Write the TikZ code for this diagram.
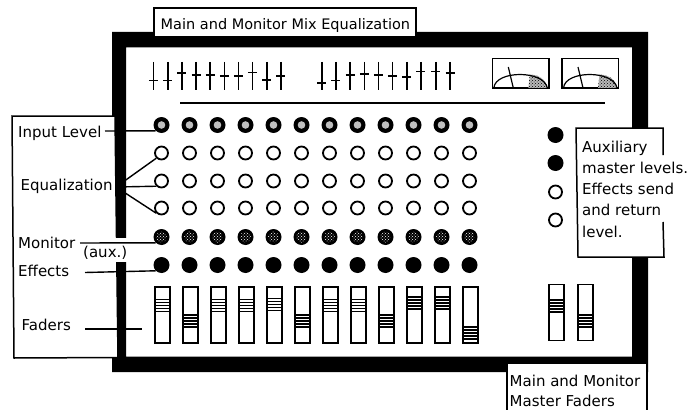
\documentclass[tikz,border=0pt]{standalone}
\usepackage{fontspec}
\setmainfont{DejaVu Sans}
\usetikzlibrary{patterns}
\begin{document}
\begin{tikzpicture}[x=1pt,y=-1pt,
  lbl/.style={anchor=base west, inner sep=0pt, font=\fontsize{15}{18}\selectfont},
  tlbl/.style={anchor=base west, inner sep=0pt, font=\fontsize{14.5}{18}\selectfont},
  boxline/.style={draw=black, line width=1.5pt, fill=white},
  conn/.style={draw=black, line width=1.4pt},
  knob/.style={draw=black, line width=1.6pt},
  bar/.style={draw=black, line width=1.6pt},
  inlevel/.style={circle, fill=black, minimum size=16pt, inner sep=0pt,
    path picture={\fill[gray!50] (path picture bounding box.center) circle[radius=3.8pt];}},
  eqknob/.style={circle, draw=black, line width=1.8pt, fill=white, minimum size=13pt, inner sep=0pt},
  monknob/.style={circle, fill=black, minimum size=16pt, inner sep=0pt,
    path picture={\fill[pattern=crosshatch dots, pattern color=white] (path picture bounding box.center) circle[radius=5.5pt];}},
  effknob/.style={circle, fill=black, minimum size=16pt, inner sep=0pt},
  fader/.style={rectangle, draw=black, line width=1.3pt, fill=white, minimum width=15pt, minimum height=56pt, inner sep=0pt},
  meterbox/.style={draw=black, line width=1.4pt, fill=white}
]
\useasboundingbox (0,0) rectangle (695,409);
\clip (0,0) rectangle (695,409);
\fill[white] (0,0) rectangle (695,409);

% thick frame
\fill[black, even odd rule] (112,32) rectangle (648,372) (126,47.5) rectangle (632,356.5);

% top small faders
\foreach \x/\t in {153.3/80.7, 167.7/80.7, 181.7/73.3, 196/75, 210/75, 224.3/76, 238.3/76, 252.3/72.7, 266.7/80, 280.7/76,
                   321.7/83.3, 335.7/80.7, 350/75, 364.3/74, 378.3/75, 392.3/76, 406.7/77.3, 420.7/71.7, 435.7/71.7, 450/73.3}{
  \draw[knob] (\x,62) -- (\x,90);
  \draw[knob] (\x-4.5,\t) -- (\x+4.5,\t);
}
\draw[line width=1.6pt] (180,103) -- (605,103);

% meters
\foreach \x in {492.3,562}{
  \draw[meterbox] (\x,58.5) rectangle (\x+56.5,88);
  \fill[gray!55] (\x+36,88) -- (\x+37.5,74.6) .. controls (\x+47,74.8) and (\x+53,79) .. (\x+55,88) -- cycle;
  \fill[pattern=crosshatch dots, pattern color=black] (\x+36,88) -- (\x+37.5,74.6) .. controls (\x+47,74.8) and (\x+53,79) .. (\x+55,88) -- cycle;
  \draw[line width=1.2pt] (\x+1.5,88) .. controls (\x+3,70) and (\x+52,70) .. (\x+55,88);
  \draw[line width=1.2pt] (\x+21,88) -- (\x+16,67);
}

% title box
\draw[boxline, line width=1.2pt] (154,8) rectangle (416,37);
\node[tlbl] (title) at (160.5,30) {Main and Monitor Mix Equalization};

% left label box
\draw[boxline] (12,116) -- (115,116) -- (118,357.5) -- (14,358) -- cycle;
\fill[white] (113,238) rectangle (131,262);

% knob grid
\foreach \i in {0,...,11}{
  \pgfmathsetmacro\cx{161.5+28*\i}
  \node[inlevel] (in\i) at (\cx,125) {};
  \node[eqknob] (eqa\i) at (\cx,153) {};
  \node[eqknob] (eqb\i) at (\cx,181) {};
  \node[eqknob] (eqc\i) at (\cx,208) {};
  \node[monknob] (mon\i) at (\cx,237) {};
  \node[effknob] (eff\i) at (\cx,265) {};
}

% channel faders
\foreach \i/\t in {0/299.5,1/315,2/299.5,3/299.5,4/298.5,5/315,6/299.5,7/299.5,8/315,9/297,10/297,11/327}{
  \pgfmathsetmacro\fx{162.5+28*\i}
  \node[fader] (fd\i) at (\fx,315) {};
  \foreach \k in {0,...,4}{ \draw[bar] (\fx-6.5,\t+3*\k) -- (\fx+6.5,\t+3*\k); }
}

% master faders
\foreach \j/\fx/\t in {1/556.5/300,2/585.5/315}{
  \node[fader] (mf\j) at (\fx,312.5) {};
  \foreach \k in {0,...,4}{ \draw[bar] (\fx-6.5,\t+3*\k) -- (\fx+6.5,\t+3*\k); }
}

% aux master knobs
\node[effknob] (ax1) at (555.5,135) {};
\node[effknob] (ax2) at (555.5,163) {};
\node[eqknob] (ax3) at (555.5,192) {};
\node[eqknob] (ax4) at (555.5,220) {};

% left labels
\node[lbl] (tin) at (18,137.5) {Input Level};
\node[lbl] (teq) at (20.5,190) {Equalization};
\node[lbl] (tmon) at (18,248) {Monitor};
\node[lbl] (taux) at (83,257) {(aux.)};
\node[lbl] (teff) at (18,276) {Effects};
\node[lbl] (tfad) at (21.5,330.5) {Faders};

\coordinate (cin) at (105,131);
\coordinate (ceq) at (116,187);
\coordinate (cmon) at (80,243);
\coordinate (ceff) at (85,272.5);
\coordinate (cfa) at (85,329);
\coordinate (cfb) at (142,329);
\draw[conn] (cin) -- (in0.south west);
\draw[conn] (ceq) -- (eqa0.south west);
\draw[conn] (ceq) -- (eqb0.south west);
\draw[conn] (ceq) -- (eqc0.south west);
\draw[conn] (cmon) -- (mon0.south west);
\draw[conn] (ceff) -- (eff0.south west);
\draw[conn] (cfa) -- (cfb);

% aux label box
\fill[white] (576,128) -- (663,128) -- (664,257) -- (578,257) -- cycle;
\draw[line width=1.5pt] (663,155) -- (663,128) -- (576,128) -- (578,257) -- (664,257) -- (663,222);
\node[lbl] (a1) at (582,152.5) {Auxiliary};
\node[lbl] (a2) at (582,173.5) {master levels.};
\node[lbl] (a3) at (582,194.5) {Effects send};
\node[lbl] (a4) at (582,215.5) {and return};
\node[lbl] (a5) at (582,237) {level.};

% bottom right box
\fill[white] (507,363) rectangle (647,412);
\draw[line width=1.5pt] (507,412) -- (507,363) -- (647,363) -- (647,412);
\node[lbl] (b1) at (509.5,386.5) {Main and Monitor};
\node[lbl] (b2) at (509.5,406.5) {Master Faders};
\end{tikzpicture}
\end{document}
